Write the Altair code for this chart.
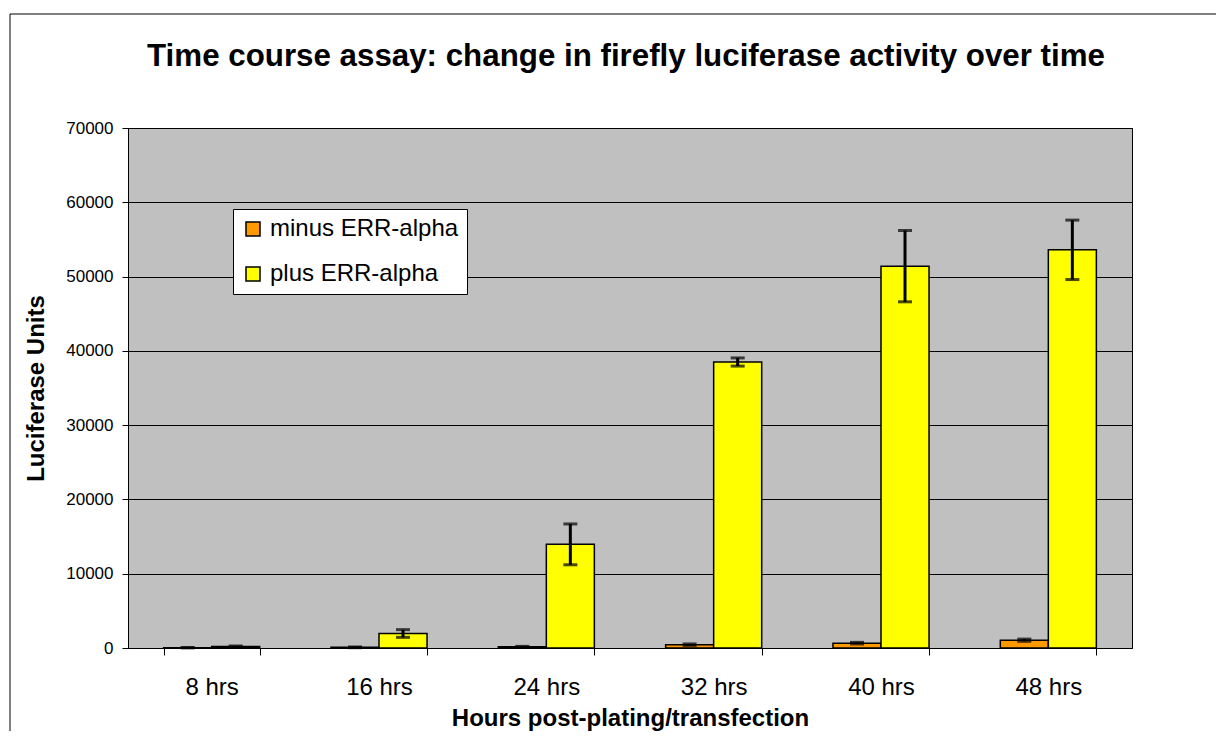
import altair as alt
import pandas as pd

categories = ["8 hrs", "16 hrs", "24 hrs", "32 hrs", "40 hrs", "48 hrs"]
series_names = ["minus ERR-alpha", "plus ERR-alpha"]
minus_vals = [40, 90, 160, 450, 650, 1050]
minus_err = [30, 50, 60, 100, 110, 150]
plus_vals = [190, 1950, 13950, 38500, 51400, 53600]
plus_err = [80, 520, 2750, 550, 4800, 4000]
series_colors = ["#FF9900", "#FFFF00"]
y_ticks = [0, 10000, 20000, 30000, 40000, 50000, 60000, 70000]

title_text = "Time course assay: change in firefly luciferase activity over time"
x_title = "Hours post-plating/transfection"
y_title = "Luciferase Units"

rows = []
for i, c in enumerate(categories):
    rows.append({"time": c, "series": series_names[0], "value": minus_vals[i], "err": minus_err[i]})
    rows.append({"time": c, "series": series_names[1], "value": plus_vals[i], "err": plus_err[i]})
df = pd.DataFrame(rows)
df["lo"] = df["value"] - df["err"]
df["hi"] = df["value"] + df["err"]

FONT = "Liberation Sans"
W, H = 1004, 520

x_enc = alt.X(
    "time:N",
    sort=categories,
    scale=alt.Scale(paddingInner=0.426, paddingOuter=0.213),
    axis=alt.Axis(
        title=x_title,
        labelAngle=0,
        labelFontSize=24,
        labelFont=FONT,
        labelColor="black",
        labelPadding=20,
        tickBand="extent",
        tickSize=7,
        tickColor="black",
        domainColor="black",
        titleFont=FONT,
        titleFontSize=24,
        titleFontWeight="bold",
        titleColor="black",
        titlePadding=7,
        grid=False,
    ),
)
xo_enc = alt.XOffset("series:N", sort=series_names, scale=alt.Scale(paddingInner=0, paddingOuter=0))

y_scale = alt.Scale(domain=[0, 70000], nice=False)

bars = alt.Chart(df).mark_bar(stroke="black", strokeWidth=1.5).encode(
    x=x_enc,
    xOffset=xo_enc,
    y=alt.Y(
        "value:Q",
        scale=y_scale,
        axis=alt.Axis(
            title=y_title,
            values=y_ticks,
            format="d",
            labelFontSize=17,
            labelFont=FONT,
            labelColor="black",
            labelPadding=9,
            tickSize=6,
            tickColor="black",
            domainColor="black",
            grid=True,
            gridColor="black",
            gridOpacity=1,
            gridWidth=1,
            titleFont=FONT,
            titleFontSize=24,
            titleFontWeight="bold",
            titleColor="black",
            titlePadding=17,
        ),
    ),
    fill=alt.Fill(
        "series:N",
        sort=series_names,
        scale=alt.Scale(domain=series_names, range=series_colors),
        legend=alt.Legend(
            title=None,
            orient="none",
            legendX=105,
            legendY=81,
            fillColor="white",
            strokeColor="black",
            padding=8,
            symbolType="square",
            symbolSize=196,
            symbolStrokeColor="black",
            symbolStrokeWidth=1.5,
            labelFontSize=24,
            labelFont=FONT,
            labelColor="black",
            labelOffset=5,
            labelLimit=0,
            rowPadding=21,
        ),
    ),
)

err_rule = alt.Chart(df).mark_rule(color="black", strokeWidth=3).encode(
    x=alt.X("time:N", sort=categories),
    xOffset=alt.XOffset("series:N", sort=series_names),
    y=alt.Y("lo:Q", scale=y_scale),
    y2="hi:Q",
)
cap_lo = alt.Chart(df).mark_tick(color="black", size=14, thickness=3, orient="horizontal").encode(
    x=alt.X("time:N", sort=categories),
    xOffset=alt.XOffset("series:N", sort=series_names),
    y=alt.Y("lo:Q", scale=y_scale),
)
cap_hi = alt.Chart(df).mark_tick(color="black", size=14, thickness=3, orient="horizontal").encode(
    x=alt.X("time:N", sort=categories),
    xOffset=alt.XOffset("series:N", sort=series_names),
    y=alt.Y("hi:Q", scale=y_scale),
)

one = pd.DataFrame({"k": [0]})
title_mark = alt.Chart(one).mark_text(
    text=title_text, font=FONT, fontSize=31.3, fontWeight="bold", color="black",
    align="center", baseline="alphabetic",
).encode(x=alt.value(498), y=alt.value(-62))

frame_left = alt.Chart(one).mark_rule(color="black", strokeWidth=1).encode(
    x=alt.value(-118), y=alt.value(-114), y2=alt.value(603)
)
frame_top = alt.Chart(one).mark_rule(color="black", strokeWidth=1).encode(
    x=alt.value(-118), x2=alt.value(1088), y=alt.value(-114)
)

chart = alt.layer(bars, err_rule, cap_lo, cap_hi, title_mark, frame_left, frame_top).properties(
    width=W, height=H, padding={"left": 1, "top": 5, "right": 0, "bottom": 0}, background="white"
).configure_view(
    fill="#C0C0C0", stroke="black", strokeWidth=1
)

chart.save("out.html", embed_options={"renderer": "svg", "actions": False})
